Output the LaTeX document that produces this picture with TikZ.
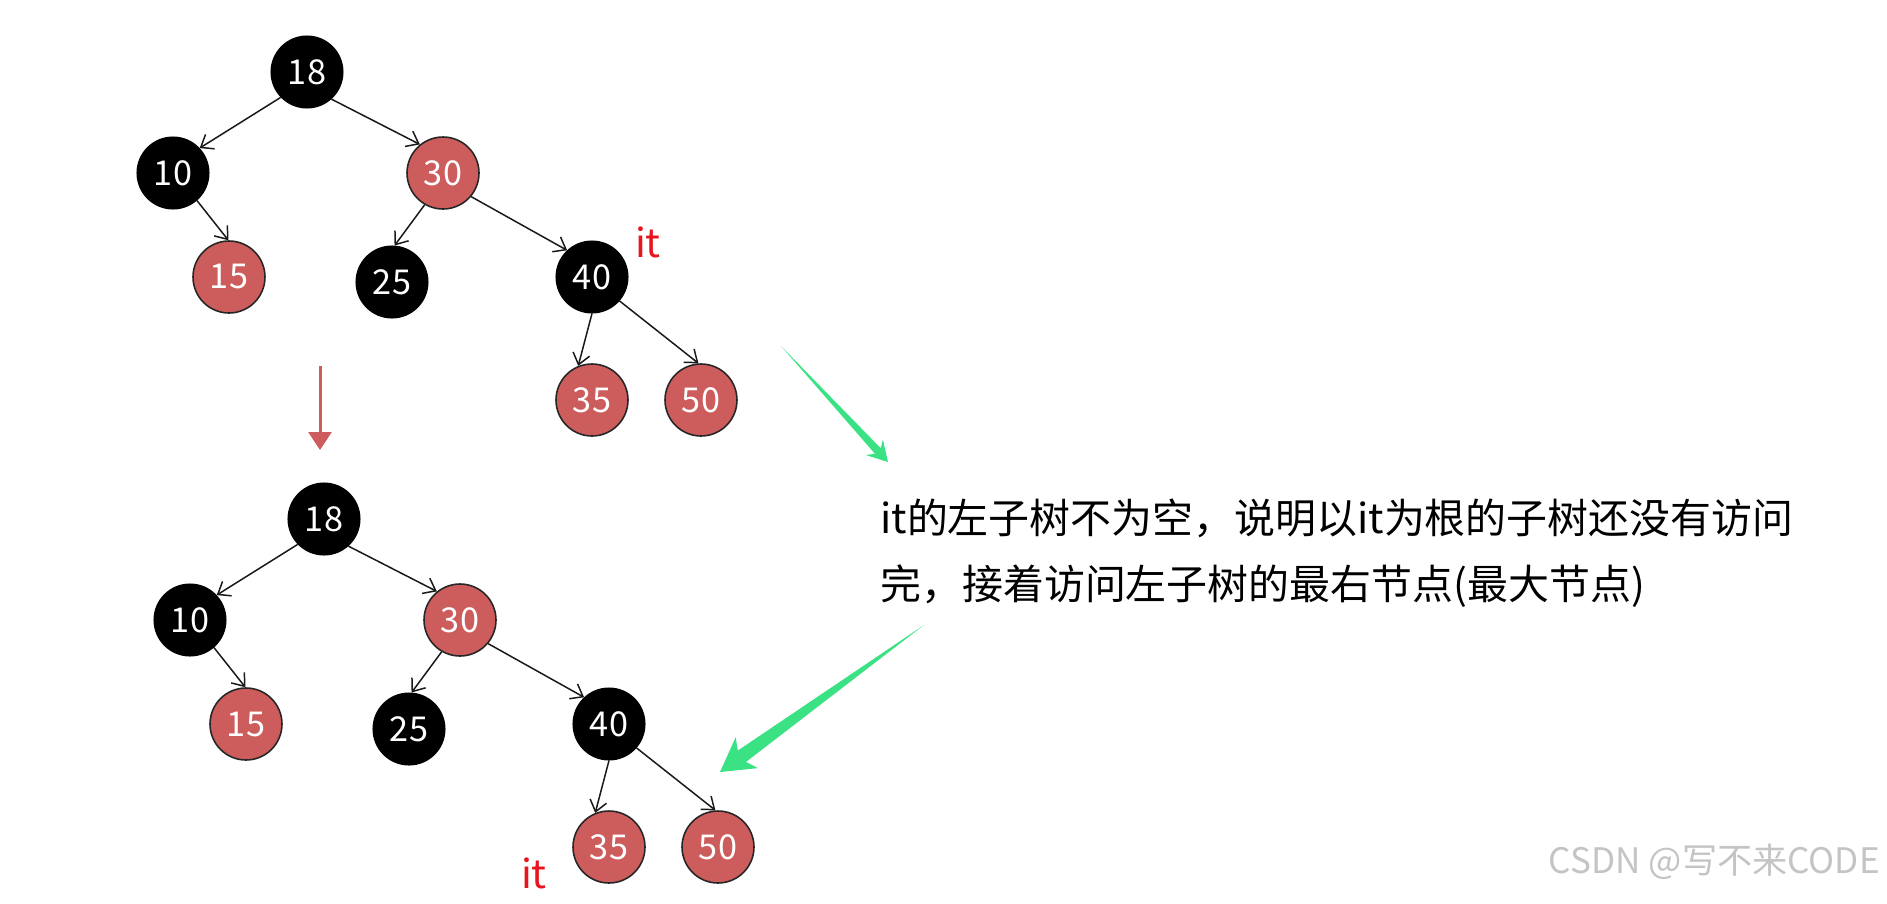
\documentclass[tikz,border=0pt]{standalone}
\usepackage{fontspec}
\setmainfont{Noto Sans CJK SC}
\usetikzlibrary{
  positioning,
  arrows.meta,
  calc
}
\definecolor{nodeRed}{HTML}{CD5C5C}
\definecolor{itRed}{HTML}{E8141E}
\definecolor{arrowGreen}{HTML}{3BE283}
\definecolor{markGray}{HTML}{C4C4C4}
\tikzset{
  blacknode/.style = {circle, fill=black, draw=black, line width=0.6pt,
                      minimum size=1.44cm, inner sep=0pt, text=white,
                      font=\fontsize{19.5}{19.5}\selectfont},
  rednode/.style   = {circle, fill=nodeRed, draw=black!85, line width=0.9pt,
                      minimum size=1.44cm, inner sep=0pt, text=white,
                      font=\fontsize{19.5}{19.5}\selectfont},
  edge/.style      = {-{Straight Barb[length=2.2mm,width=3.4mm]},
                      line width=0.85pt, draw=black!90},
  downarrow/.style = {-{Triangle[length=0.36cm,width=0.46cm]},
                      line width=0.06cm, draw=nodeRed},
  itlabel/.style   = {text=itRed, inner sep=0pt,
                      font=\fontsize{22.5}{22.5}\selectfont},
  captext/.style   = {inner sep=0pt, text=black,
                      font=\fontsize{23.3}{28}\selectfont},
  watermark/.style = {inner sep=0pt, text=markGray,
                      font=\fontsize{20}{20}\selectfont}
}
% tapered green arrow: from, tip, head length, head half width, neck, shaft half width
\newcommand{\taperarrow}[6]{%
  \fill[arrowGreen] (#1) -- ($(#2)!#5!(#1)!#6!90:(#1)$)
    -- ($(#2)!#3!(#1)!#4!90:(#1)$) -- (#2)
    -- ($(#2)!#3!(#1)!#4!-90:(#1)$)
    -- ($(#2)!#5!(#1)!#6!-90:(#1)$) -- cycle;}

\begin{document}
\begin{tikzpicture}[x=0.02cm, y=-0.02cm]
\useasboundingbox (0,0) rectangle (1887,903);

% the same tree twice, the second copy shifted down
\foreach \t/\dx/\dy in {a/0/0, b/17/447} {
  \begin{scope}[shift={(\dx,\dy)}]
    \node[blacknode] (\t18) at (307,72)  {18};
    \node[blacknode] (\t10) at (173,173) {10};
    \node[rednode]   (\t30) at (443,173) {30};
    \node[rednode]   (\t15) at (229,277) {15};
    \node[blacknode] (\t25) at (392,282) {25};
    \node[blacknode] (\t40) at (592,277) {40};
    \node[rednode]   (\t35) at (592,400) {35};
    \node[rednode]   (\t50) at (701,400) {50};
    \draw[edge] (\t18.-136) -- (\t10.43);
    \draw[edge] (\t18.-48)  -- (\t30.129);
    \draw[edge] (\t10.-49)  -- (\t15.91);
    \draw[edge] (\t30.-120) -- (\t25.86);
    \draw[edge] (\t30.-40)  -- (\t40.133);
    \draw[edge] (\t40.-90)  -- (\t35.112);
    \draw[edge] (\t40.-41)  -- (\t50.94);
  \end{scope}
}

\node[itlabel, anchor=base] (itTop) at (648,257) {it};
\node[itlabel, anchor=base] (itBot) at (534,888) {it};

% step arrow between the two trees
\coordinate (downS) at (320,366);
\coordinate (downE) at (320,450);
\draw[downarrow] (downS) -- (downE);

% explanation
\node[captext, anchor=base west] (txtA) at (880,533)
  {it的左子树不为空，说明以it为根的子树还没有访问};
\node[captext, anchor=base west] (txtB) at ([yshift=-1.34cm]txtA.base west)
  {完，接着访问左子树的最右节点(最大节点)};

\coordinate (gA) at (781,346);
\coordinate (gB) at (888,462);
\coordinate (gC) at (924,625);
\coordinate (gD) at (720,772);
\taperarrow{gA}{gB}{0.4cm}{0.23cm}{0.3cm}{0.08cm}
\taperarrow{gC}{gD}{0.66cm}{0.38cm}{0.54cm}{0.14cm}

\node[watermark, anchor=base east] (mark) at (1880,873) {CSDN @写不来CODE};
\end{tikzpicture}
\end{document}
